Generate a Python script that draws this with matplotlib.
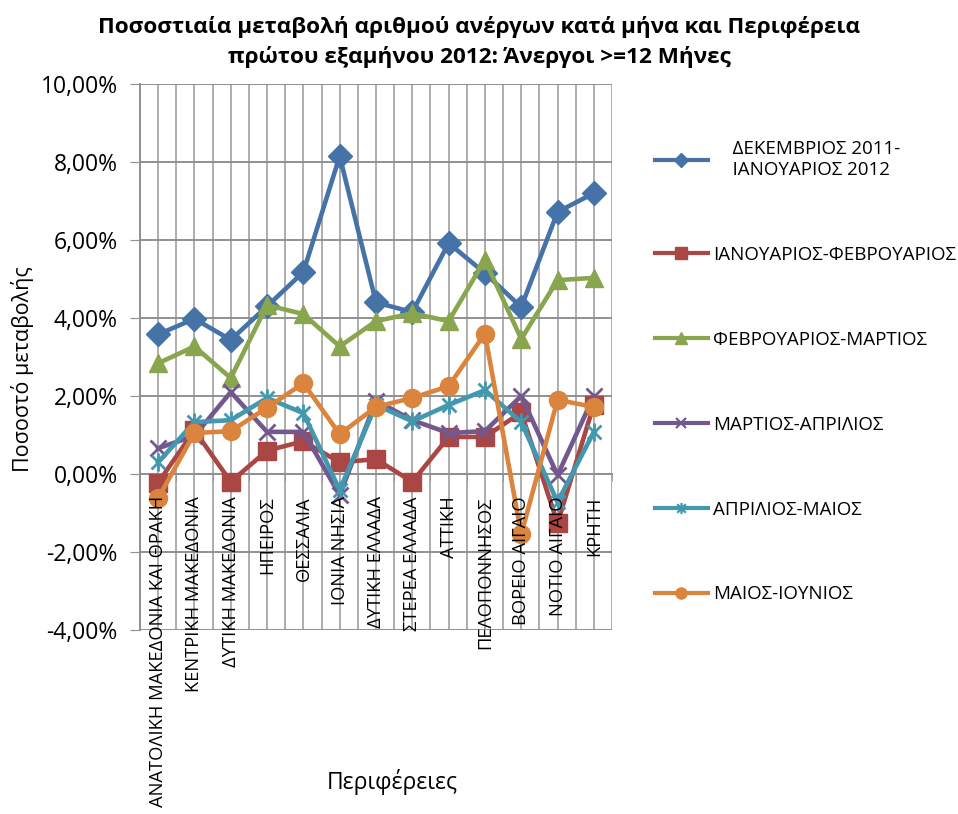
import matplotlib
matplotlib.use("Agg")
import matplotlib.pyplot as plt
from matplotlib.lines import Line2D
from matplotlib.path import Path
from matplotlib.ticker import FuncFormatter, MultipleLocator

plt.rcParams['font.family'] = ['Open Sans', 'DejaVu Sans']

# Περιφέρειες
regions = ['ΑΝΑΤΟΛΙΚΗ ΜΑΚΕΔΟΝΙΑ ΚΑΙ ΘΡΑΚΗ', 'ΚΕΝΤΡΙΚΗ ΜΑΚΕΔΟΝΙΑ', 'ΔΥΤΙΚΗ ΜΑΚΕΔΟΝΙΑ',
           'ΗΠΕΙΡΟΣ', 'ΘΕΣΣΑΛΙΑ', 'ΙΟΝΙΑ ΝΗΣΙΑ', 'ΔΥΤΙΚΗ ΕΛΛΑΔΑ', 'ΣΤΕΡΕΑ ΕΛΛΑΔΑ',
           'ΑΤΤΙΚΗ', 'ΠΕΛΟΠΟΝΝΗΣΟΣ', 'ΒΟΡΕΙΟ ΑΙΓΑΙΟ', 'ΝΟΤΙΟ ΑΙΓΑΙΟ', 'ΚΡΗΤΗ']

# ποσοστιαία μεταβολή (%)
dec_jan = [3.58, 3.98, 3.44, 4.30, 5.18, 8.15, 4.40, 4.15, 5.92, 5.15, 4.28, 6.72, 7.20]
jan_feb = [-0.22, 1.12, -0.20, 0.60, 0.84, 0.30, 0.38, -0.20, 0.95, 0.95, 1.58, -1.26, 1.78]
feb_mar = [2.84, 3.27, 2.46, 4.33, 4.10, 3.27, 3.92, 4.12, 3.92, 5.49, 3.46, 4.97, 5.03]
mar_apr = [0.66, 0.98, 2.10, 1.08, 1.08, -0.54, 1.88, 1.38, 1.05, 1.10, 2.00, -0.03, 2.00]
apr_may = [0.30, 1.33, 1.38, 1.95, 1.56, -0.41, 1.77, 1.35, 1.77, 2.15, 1.33, -0.72, 1.08]
may_jun = [-0.62, 1.05, 1.10, 1.70, 2.33, 1.02, 1.72, 1.95, 2.25, 3.60, -1.55, 1.90, 1.72]

series_labels = ['    ΔΕΚΕΜΒΡΙΟΣ 2011-\n    ΙΑΝΟΥΑΡΙΟΣ 2012', 'ΙΑΝΟΥΑΡΙΟΣ-ΦΕΒΡΟΥΑΡΙΟΣ',
                 'ΦΕΒΡΟΥΑΡΙΟΣ-ΜΑΡΤΙΟΣ', 'ΜΑΡΤΙΟΣ-ΑΠΡΙΛΙΟΣ', 'ΑΠΡΙΛΙΟΣ-ΜΑΙΟΣ', 'ΜΑΙΟΣ-ΙΟΥΝΙΟΣ']
series = [dec_jan, jan_feb, feb_mar, mar_apr, apr_may, may_jun]

# αστερίσκος τύπου Excel (x + κάθετη γραμμή)
asterisk = Path([(-1, -1), (1, 1), (-1, 1), (1, -1), (0, -1.3), (0, 1.3)],
                [Path.MOVETO, Path.LINETO, Path.MOVETO, Path.LINETO, Path.MOVETO, Path.LINETO])

colors = ['#4572A7', '#AA4643', '#89A54E', '#71588F', '#4198AF', '#DB843D']
markers = ['D', 's', '^', 'x', asterisk, 'o']
msizes = [12, 13, 13, 11, 13, 13]
leg_sizes = [7, 8, 8, 7, 8, 8]

fig = plt.figure(figsize=(9.58, 8.14), dpi=100)
ax = fig.add_axes([140 / 958, 1 - 630 / 814, 472 / 958, 546 / 814])

x = list(range(len(regions)))
handles = []
for i, (vals, lab, col) in enumerate(zip(series, series_labels, colors)):
    mk = markers[i]
    thin = i in (3, 4)
    ax.plot(x, vals, color=col, lw=3.3, marker=mk, markersize=msizes[i],
            markeredgewidth=2 if thin else 1, markeredgecolor=col, zorder=3)
    handles.append(Line2D([], [], color=col, lw=3, marker=mk, markersize=leg_sizes[i],
                          markeredgewidth=1.6 if thin else 1, markeredgecolor=col, label=lab))

ax.set_xlim(-0.5, len(regions) - 0.5)
ax.set_ylim(-4, 10)

# άξονας x στο 0
ax.spines['bottom'].set_position(('data', 0))
for s in ['top', 'right']:
    ax.spines[s].set_visible(False)
for s in ['bottom', 'left']:
    ax.spines[s].set_color('#909090')
    ax.spines[s].set_linewidth(1.4)

ax.yaxis.set_major_locator(MultipleLocator(2))
ax.yaxis.set_major_formatter(FuncFormatter(lambda v, p: f"{v:.2f}%".replace('.', ',')))
ax.set_xticks(x)
ax.set_xticklabels(regions)
bounds = [i - 0.5 for i in range(len(regions) + 1)]
ax.set_xticks(bounds, minor=True)
ax.tick_params(axis='x', which='major', length=0, pad=16, labelsize=13.2, labelrotation=90)
ax.tick_params(axis='x', which='minor', length=5, color='#909090', direction='out')
ax.tick_params(axis='y', labelsize=16.5, length=7, pad=9, color='#909090')
for t in ax.get_xticklabels():
    t.set_va('top')

# κάθετες γραμμές πλέγματος πίσω από τις σειρές, ετικέτες x από πάνω
ax.vlines(x + bounds, 0, 1, transform=ax.get_xaxis_transform(), color='#a0a0a0', lw=1.2, zorder=0.4)
ax.grid(True, which='major', axis='y', color='#909090', lw=1.4)
ax.set_axisbelow(True)
ax.xaxis.set_zorder(4)

ax.set_ylabel('Ποσοστό μεταβολής', fontsize=15.5)
ax.yaxis.set_label_coords(-106 / 472, 0.477)
fig.text(392 / 958, 1 - 782 / 814, 'Περιφέρειες', fontsize=16.5, ha='center', va='center')

fig.suptitle('Ποσοστιαία μεταβολή αριθμού ανέργων κατά μήνα και Περιφέρεια\n'
             'πρώτου εξαμήνου 2012: Άνεργοι >=12 Μήνες',
             fontsize=16.2, fontweight='bold', x=0.5, y=0.98, linespacing=1.45)

fig.legend(handles=handles, loc='upper left', bbox_to_anchor=(655 / 958, 1 - 140 / 814),
           frameon=False, fontsize=13.5, handlelength=2.8, labelspacing=3.57,
           handletextpad=0.3, borderaxespad=0, borderpad=0)

fig.savefig('out.png', dpi=100)
